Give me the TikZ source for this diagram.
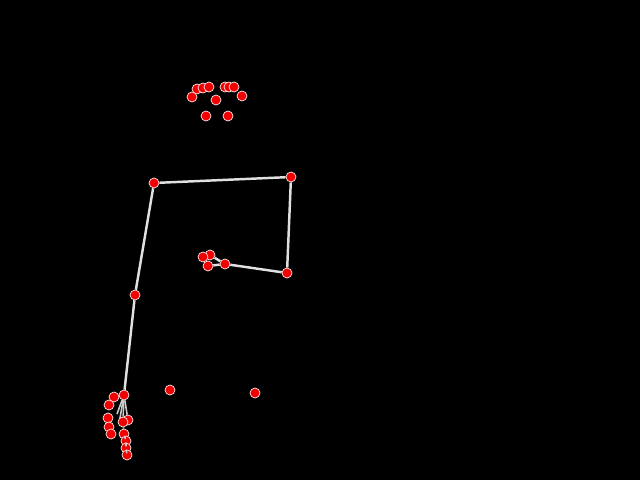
\documentclass[tikz,border=0pt]{standalone}
\usepackage{tikz}
\usetikzlibrary{positioning}
\definecolor{KP_Red}{HTML}{F00000}
\definecolor{Limb_Gray}{HTML}{E0E0E0}
\tikzset{
  kp/.style={circle, fill=KP_Red, draw=white!90!red, line width=0.4pt, minimum size=0.2cm, inner sep=0pt},
  limb/.style={draw=Limb_Gray, line width=1.4pt},
  finger/.style={draw=Limb_Gray!90!black, line width=0.9pt}
}
\begin{document}
\begin{tikzpicture}[x=0.02cm, y=-0.02cm]
% Background
\fill[black] (0,0) rectangle (640,480);
\useasboundingbox (0,0) rectangle (640,480);
% Body keypoints
\node[kp] (lsh) at (154,183) {};
\node[kp] (rsh) at (291,177) {};
\node[kp] (relb) at (287,273) {};
\node[kp] (rwr) at (225,264) {};
\node[kp] (lelb) at (135,295) {};
\node[kp] (lwr) at (124,395) {};
\node[kp] (lhip) at (170,390) {};
\node[kp] (rhip) at (255,393) {};
% Limbs
\draw[limb] (lsh) -- (rsh);
\draw[limb] (rsh) -- (relb);
\draw[limb] (relb) -- (rwr);
\draw[limb] (lsh) -- (lelb);
\draw[limb] (lelb) -- (lwr);
% Face keypoints
\foreach \n/\x/\y in {f1/197/89, f2/203/88, f3/209/87, f4/225/87, f5/229/87, f6/234/87,
                      f7/192/97, f8/216/100, f9/242/96, f10/206/116, f11/228/116}
  \node[kp] (\n) at (\x,\y) {};
% Right hand
\node[kp] (rh1) at (210,255) {};
\node[kp] (rh2) at (203,257) {};
\node[kp] (rh3) at (208,266) {};
\draw[limb] (rwr) -- (rh1);
\draw[limb] (rwr) -- (rh3);
% Left hand
\coordinate (lhc1) at (120,418);
\coordinate (lhc2) at (117,414);
\draw[finger] (lwr) -- (lhc1);
\draw[finger] (lwr) -- (lhc2);
\foreach \n/\x/\y in {lh1/114/397, lh2/109/405, lh3/108/418, lh4/109/427, lh5/111/434,
                      lh6/128/420, lh7/123/422, lh8/124/434, lh9/126/441, lh10/126/448, lh11/127/455}
  \node[kp] (\n) at (\x,\y) {};
\draw[finger] (lwr) -- (lh6);
\draw[finger] (lwr) -- (lh7);
\draw[finger] (lh7) -- (lh8) -- (lh9) -- (lh10) -- (lh11);
\end{tikzpicture}
\end{document}
